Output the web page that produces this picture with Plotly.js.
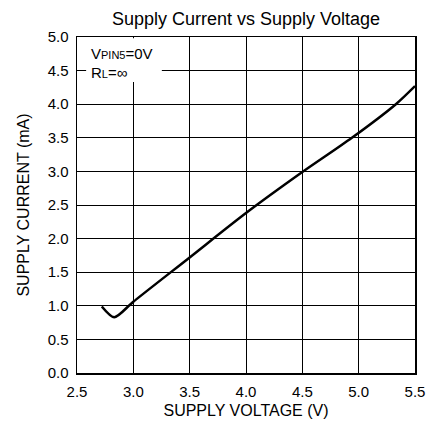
<!DOCTYPE html>
<html>
<head>
<meta charset="utf-8">
<script src="https://cdn.plot.ly/plotly-3.0.1.min.js"></script>
<style>html,body{margin:0;padding:0;background:#fff;}#chart{width:432px;height:423px;}</style>
</head>
<body>
<div id="chart"></div>
<script>
// Supply voltage (V) and supply current (mA)
const supplyVoltage = [2.72, 2.83, 2.96, 3.0, 3.5, 4.0, 4.5, 4.94, 5.33, 5.5];
const supplyCurrent = [0.99, 0.83, 1.0, 1.06, 1.72, 2.38, 2.99, 3.5, 4.0, 4.27];
const xTicks = [2.5, 3.0, 3.5, 4.0, 4.5, 5.0, 5.5];
const yTicks = [0.0, 0.5, 1.0, 1.5, 2.0, 2.5, 3.0, 3.5, 4.0, 4.5, 5.0];

const font = 'Liberation Sans, Arial, sans-serif';
const trace = {
  x: supplyVoltage, y: supplyCurrent, mode: 'lines', type: 'scatter',
  line: {color: '#000', width: 2.5, shape: 'spline', smoothing: 0.8},
  showlegend: false, hoverinfo: 'none'
};
const axisCommon = {
  showgrid: true, gridcolor: '#000', gridwidth: 1,
  showline: true, linecolor: '#000', linewidth: 1.5, mirror: true,
  zeroline: false, ticks: 'outside', ticklen: 4, tickcolor: 'rgba(0,0,0,0)',
  tickfont: {family: font, size: 15, color: '#000'}
};
const layout = {
  width: 432, height: 423,
  margin: {l: 77, r: 17, t: 37, b: 50},
  paper_bgcolor: '#fff', plot_bgcolor: '#fff',
  title: {text: 'Supply Current vs Supply Voltage', font: {family: font, size: 18, color: '#000'},
          x: 0.5695, xanchor: 'center', y: 0.955, yanchor: 'middle'},
  xaxis: Object.assign({}, axisCommon, {
    range: [2.5, 5.5], tickvals: xTicks, ticktext: xTicks.map(v => v.toFixed(1)),
    title: {text: 'SUPPLY VOLTAGE (V)', font: {family: font, size: 16, color: '#000'}, standoff: 6}
  }),
  yaxis: Object.assign({}, axisCommon, {
    range: [0, 5], tickvals: yTicks, ticktext: yTicks.map(v => v.toFixed(1)),
    title: {text: 'SUPPLY CURRENT (mA)', font: {family: font, size: 16, color: '#000'}, standoff: 14}
  }),
  shapes: [{type: 'rect', xref: 'paper', yref: 'paper', x0: 0.027, x1: 0.251, y0: 0.866, y1: 0.996,
            fillcolor: '#fff', line: {width: 0}, layer: 'above'}],
  annotations: [
    {xref: 'paper', yref: 'paper', x: 0.035, y: 0.95, xanchor: 'left', yanchor: 'middle', showarrow: false,
     text: 'V<span style="font-size:11px">PIN5</span>=0V', font: {family: font, size: 15, color: '#000'}},
    {xref: 'paper', yref: 'paper', x: 0.035, y: 0.893, xanchor: 'left', yanchor: 'middle', showarrow: false,
     text: 'R<span style="font-size:11px">L</span>=∞', font: {family: font, size: 15, color: '#000'}}
  ]
};
Plotly.newPlot('chart', [trace], layout, {displayModeBar: false, staticPlot: true});
</script>
</body>
</html>
